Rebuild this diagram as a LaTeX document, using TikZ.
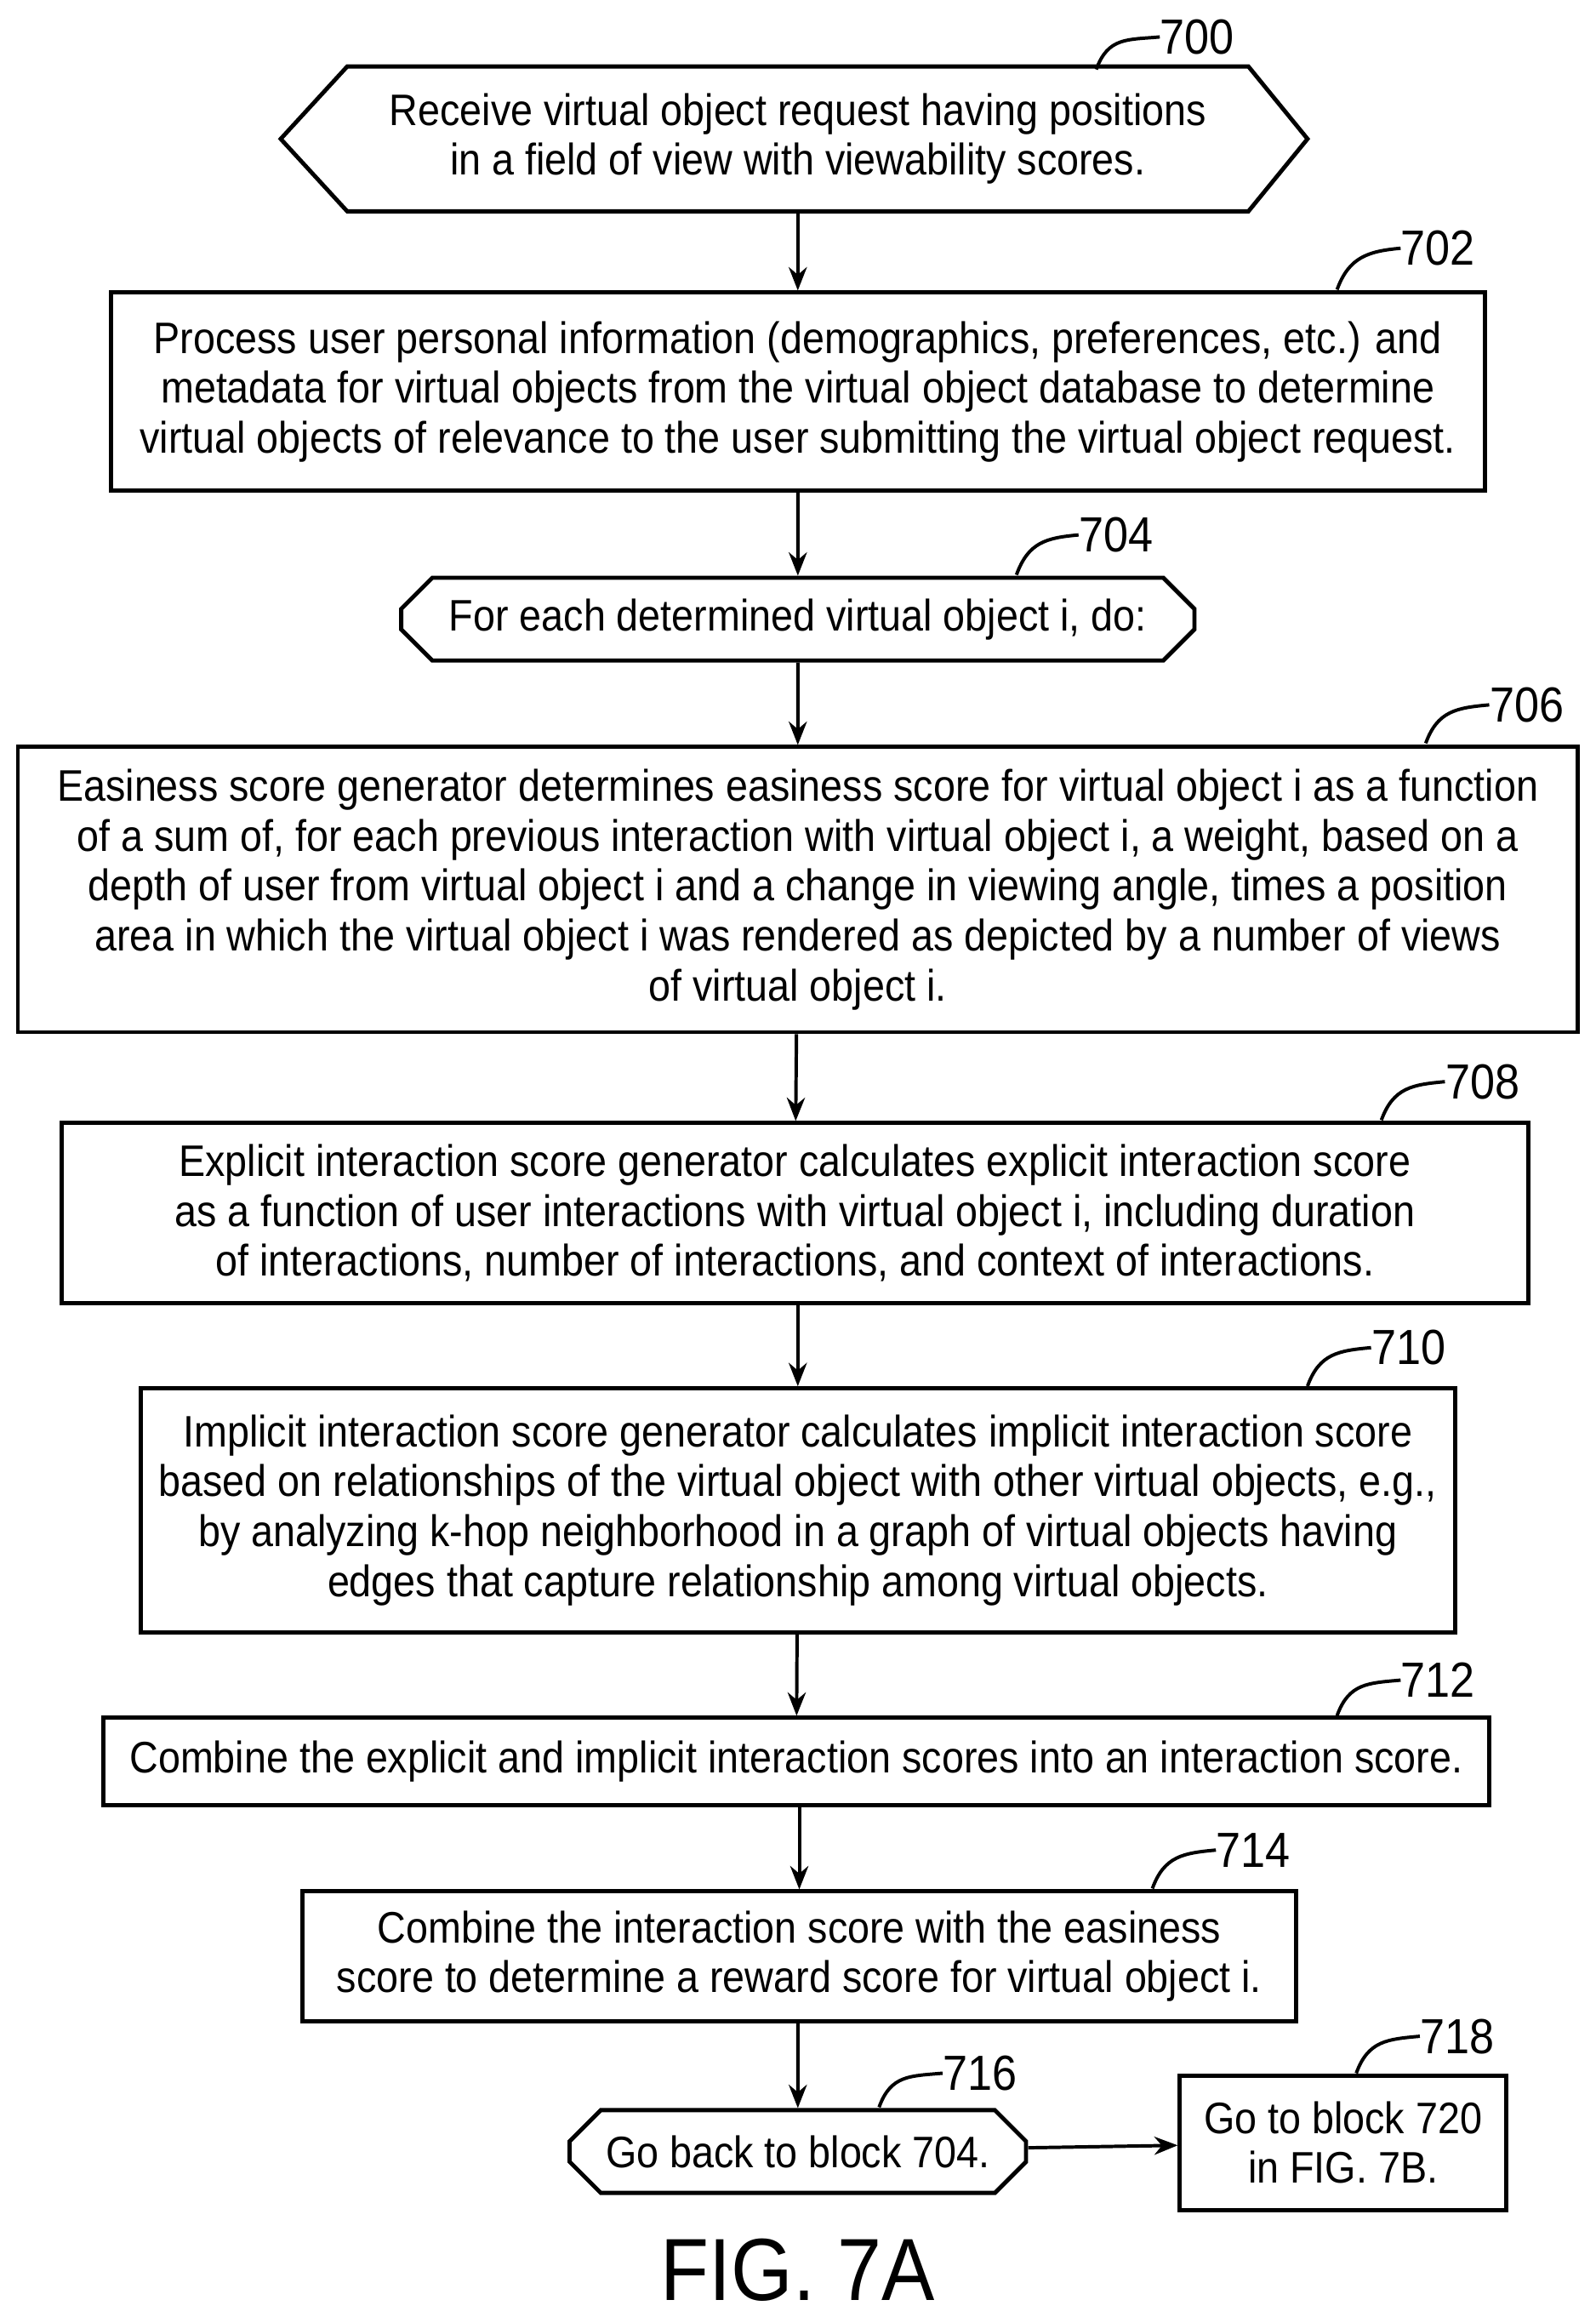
\documentclass[tikz,border=0pt]{standalone}
\usepackage{fontspec}
\setmainfont{Liberation Sans}[FakeStretch=0.9]
\usetikzlibrary{arrows.meta,shapes.misc}
\begin{document}
\begin{tikzpicture}[x=0.02cm,y=-0.02cm,
	box/.style={draw,line width=1.6pt,align=center,inner sep=0pt,font=\fontsize{17}{19.2}\selectfont},
	cbox/.style={box,chamfered rectangle,chamfered rectangle xsep=6pt,chamfered rectangle ysep=6pt,chamfered rectangle corners={north west,north east,south west,south east}},
	num/.style={anchor=west,inner sep=0pt,font=\fontsize{19}{21}\selectfont},
	flow/.style={line width=1.3pt,-{Stealth[length=9pt,width=7pt]}},
	lead/.style={line width=1.3pt}]
	\useasboundingbox (0,0) rectangle (1080,1568);

	%blocks
	\node[inner sep=0pt,align=center,font=\fontsize{17}{19.2}\selectfont,minimum width=13cm,minimum height=1.96cm] (b700) at (540,94)
		{Receive virtual object request having positions\\in a field of view with viewability scores.};
	\draw[line width=1.6pt] (190,94)--(235,45)--(845,45)--(885,94)--(845,143)--(235,143)--cycle;
	\node[box,minimum width=18.6cm,minimum height=2.68cm] (b702) at (540,265)
		{Process user personal information (demographics, preferences, etc.) and\\metadata for virtual objects from the virtual object database to determine\\virtual objects of relevance to the user submitting the virtual object request.};
	\node[cbox,minimum width=10.74cm,minimum height=1.12cm] (b704) at (540,419) {For each determined virtual object i, do:};
	\node[box,minimum width=21.12cm,minimum height=3.86cm] (b706) at (540,602)
		{Easiness score generator determines easiness score for virtual object i as a function\\of a sum of, for each previous interaction with virtual object i, a weight, based on a\\depth of user from virtual object i and a change in viewing angle, times a position\\area in which the virtual object i was rendered as depicted by a number of views\\of virtual object i.};
	\node[box,minimum width=19.86cm,minimum height=2.44cm] (b708) at (538,821)
		{Explicit interaction score generator calculates explicit interaction score\\as a function of user interactions with virtual object i, including duration\\of interactions, number of interactions, and context of interactions.};
	\node[box,minimum width=17.8cm,minimum height=3.3cm] (b710) at (540,1022)
		{Implicit interaction score generator calculates implicit interaction score\\based on relationships of the virtual object with other virtual objects, e.g.,\\by analyzing k-hop neighborhood in a graph of virtual objects having\\edges that capture relationship among virtual objects.};
	\node[box,minimum width=18.76cm,minimum height=1.18cm] (b712) at (539,1192)
		{Combine the explicit and implicit interaction scores into an interaction score.};
	\node[box,minimum width=13.46cm,minimum height=1.76cm] (b714) at (541,1324)
		{Combine the interaction score with the easiness\\score to determine a reward score for virtual object i.};
	\node[cbox,minimum width=6.18cm,minimum height=1.12cm] (b716) at (540,1456) {Go back to block 704.};
	\node[box,minimum width=4.42cm,minimum height=1.82cm] (b718) at (909,1450) {Go to block 720\\in FIG. 7B.};

	%connectors
	\draw[flow] (540,143)--(b702);
	\draw[flow] (b702)--(b704);
	\draw[flow] (b704)--(b706);
	\draw[flow] (b706)--(b708);
	\draw[flow] (b708.south -| b710)--(b710);
	\draw[flow] (b710)--(b712);
	\draw[flow] (b712.south -| b714)--(b714);
	\draw[flow] (b714.south -| b716)--(b716);
	\draw[flow] (b716)--(b718);

	%reference numerals
	\foreach \nm/\sx/\sy/\lx/\ly in {700/742/47/785/25, 702/905/196/948/168, 704/688/389/730/362,
		706/965/503/1008/477, 708/935/758/978/732, 710/885/938/928/912, 712/905/1161/948/1137,
		714/780/1278/823/1252, 716/595/1426/638/1403, 718/918/1403/961/1378}{
		\node[num] (n\nm) at (\lx,\ly) {\nm};
		\draw[lead] (\sx,\sy) .. controls (\sx+8,\sy-22) and (\lx-22,\ly+2) .. (n\nm.west);
	}

	\node[font=\fontsize{34}{36}\selectfont] (fig) at (540,1536) {FIG. 7A};
\end{tikzpicture}
\end{document}
